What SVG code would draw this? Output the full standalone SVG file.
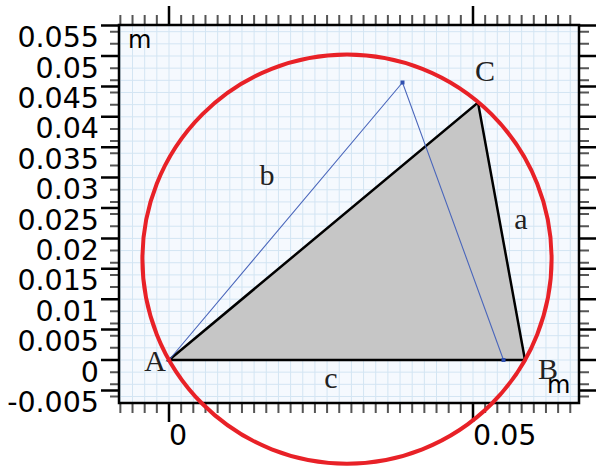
<svg xmlns="http://www.w3.org/2000/svg" width="596" height="472" viewBox="0 0 596 472">
<style>
.num{font-family:"DejaVu Sans",sans-serif;font-size:28.5px;fill:#000}
.unit{font-family:"DejaVu Sans",sans-serif;font-size:24px;fill:#000}
.lbl{font-family:"Liberation Serif","Times New Roman",serif;font-size:30px;fill:#222;text-anchor:middle}
.grid{stroke:#d3e5f3;stroke-width:1;fill:none}
.minor{stroke:#555;stroke-width:2;fill:none}
.major{stroke:#000;stroke-width:2.5;fill:none}
</style>
<rect width="596" height="472" fill="#fff"/>
<g id="plot-area">
<rect x="119" y="25" width="460" height="378" fill="#f5f9fe"/>
<path class="grid" d="M120.36 25V403M132.52 25V403M144.68 25V403M156.84 25V403M169 25V403M181.16 25V403M193.32 25V403M205.48 25V403M217.64 25V403M229.8 25V403M241.96 25V403M254.12 25V403M266.28 25V403M278.44 25V403M290.6 25V403M302.76 25V403M314.92 25V403M327.08 25V403M339.24 25V403M351.4 25V403M363.56 25V403M375.72 25V403M387.88 25V403M400.04 25V403M412.2 25V403M424.36 25V403M436.52 25V403M448.68 25V403M460.84 25V403M473 25V403M485.16 25V403M497.32 25V403M509.48 25V403M521.64 25V403M533.8 25V403M545.96 25V403M558.12 25V403M570.28 25V403"/>
<path class="grid" d="M119 396.48H579M119 384.32H579M119 372.16H579M119 360H579M119 347.84H579M119 335.68H579M119 323.52H579M119 311.36H579M119 299.2H579M119 287.04H579M119 274.88H579M119 262.72H579M119 250.56H579M119 238.4H579M119 226.24H579M119 214.08H579M119 201.92H579M119 189.76H579M119 177.6H579M119 165.44H579M119 153.28H579M119 141.12H579M119 128.96H579M119 116.8H579M119 104.64H579M119 92.48H579M119 80.32H579M119 68.16H579M119 56H579M119 43.84H579M119 31.68H579"/>
</g>
<g id="axes">
<path class="minor" d="M120.36 25V15M132.52 25V15M144.68 25V15M156.84 25V15M181.16 25V15M193.32 25V15M205.48 25V15M217.64 25V15M229.8 25V15M241.96 25V15M254.12 25V15M266.28 25V15M278.44 25V15M290.6 25V15M302.76 25V15M314.92 25V15M327.08 25V15M339.24 25V15M351.4 25V15M363.56 25V15M375.72 25V15M387.88 25V15M400.04 25V15M412.2 25V15M424.36 25V15M436.52 25V15M448.68 25V15M460.84 25V15M485.16 25V15M497.32 25V15M509.48 25V15M521.64 25V15M533.8 25V15M545.96 25V15M558.12 25V15M570.28 25V15"/>
<path class="minor" d="M120.36 403V413M132.52 403V413M144.68 403V413M156.84 403V413M181.16 403V413M193.32 403V413M205.48 403V413M217.64 403V413M229.8 403V413M241.96 403V413M254.12 403V413M266.28 403V413M278.44 403V413M290.6 403V413M302.76 403V413M314.92 403V413M327.08 403V413M339.24 403V413M351.4 403V413M363.56 403V413M375.72 403V413M387.88 403V413M400.04 403V413M412.2 403V413M424.36 403V413M436.52 403V413M448.68 403V413M460.84 403V413M485.16 403V413M497.32 403V413M509.48 403V413M521.64 403V413M533.8 403V413M545.96 403V413M558.12 403V413M570.28 403V413"/>
<path class="minor" d="M119 396.48H110M119 384.32H110M119 372.16H110M119 347.84H110M119 335.68H110M119 323.52H110M119 311.36H110M119 287.04H110M119 274.88H110M119 262.72H110M119 250.56H110M119 226.24H110M119 214.08H110M119 201.92H110M119 189.76H110M119 165.44H110M119 153.28H110M119 141.12H110M119 128.96H110M119 104.64H110M119 92.48H110M119 80.32H110M119 68.16H110M119 43.84H110M119 31.68H110"/>
<path class="minor" d="M579 396.48H589M579 384.32H589M579 372.16H589M579 347.84H589M579 335.68H589M579 323.52H589M579 311.36H589M579 287.04H589M579 274.88H589M579 262.72H589M579 250.56H589M579 226.24H589M579 214.08H589M579 201.92H589M579 189.76H589M579 165.44H589M579 153.28H589M579 141.12H589M579 128.96H589M579 104.64H589M579 92.48H589M579 80.32H589M579 68.16H589M579 43.84H589M579 31.68H589"/>
<path class="major" d="M169 25V6M473 25V6M169 403V422M473 403V422"/>
<path class="major" d="M119 390.4H101M119 360H101M119 329.6H101M119 299.2H101M119 268.8H101M119 238.4H101M119 208H101M119 177.6H101M119 147.2H101M119 116.8H101M119 86.4H101M119 56H101M119 25.6H101"/>
<path class="major" d="M579 390.4H598M579 360H598M579 329.6H598M579 299.2H598M579 268.8H598M579 238.4H598M579 208H598M579 177.6H598M579 147.2H598M579 116.8H598M579 86.4H598M579 56H598M579 25.6H598"/>
<rect x="119" y="25" width="460" height="378" fill="none" stroke="#000" stroke-width="2.5"/>
<g class="num" text-anchor="end">
<text x="99" y="47.1">0.055</text>
<text x="99" y="77.5">0.05</text>
<text x="99" y="107.9">0.045</text>
<text x="99" y="138.3">0.04</text>
<text x="99" y="168.7">0.035</text>
<text x="99" y="199.1">0.03</text>
<text x="99" y="229.5">0.025</text>
<text x="99" y="259.9">0.02</text>
<text x="99" y="290.3">0.015</text>
<text x="99" y="320.7">0.01</text>
<text x="99" y="351.1">0.005</text>
<text x="99" y="381.5">0</text>
<text x="99" y="411.9">-0.005</text>
</g>
<text class="num" x="169" y="445">0</text>
<text class="num" x="473" y="445">0.05</text>
<text class="unit" x="128" y="48">m</text>
<text class="unit" x="547" y="393">m</text>
</g>
<g id="triangle">
<polygon points="169,360 525,360 478,102.5" fill="#c6c6c6" stroke="#000" stroke-width="2.5" stroke-linejoin="miter"/>
</g>
<g id="connectors">
<polyline points="169,360 402.5,82.5 503.5,360" fill="none" stroke="#4a66bb" stroke-width="1.1"/>
<rect x="400.5" y="80.5" width="4" height="4" fill="#3050b0"/>
<rect x="501.5" y="358" width="4" height="4" fill="#3050b0"/>
<rect x="167" y="358" width="4" height="4" fill="#3050b0"/>
</g>
<g id="circumcircle">
<circle cx="347" cy="259.1" r="204.6" fill="none" stroke="#e82127" stroke-width="4"/>
</g>
<g id="labels">
<text class="lbl" x="155" y="371">A</text>
<text class="lbl" x="548" y="379">B</text>
<text class="lbl" x="485" y="81">C</text>
<text class="lbl" x="521" y="229">a</text>
<text class="lbl" x="267" y="185">b</text>
<text class="lbl" x="331" y="388">c</text>
</g>
</svg>
